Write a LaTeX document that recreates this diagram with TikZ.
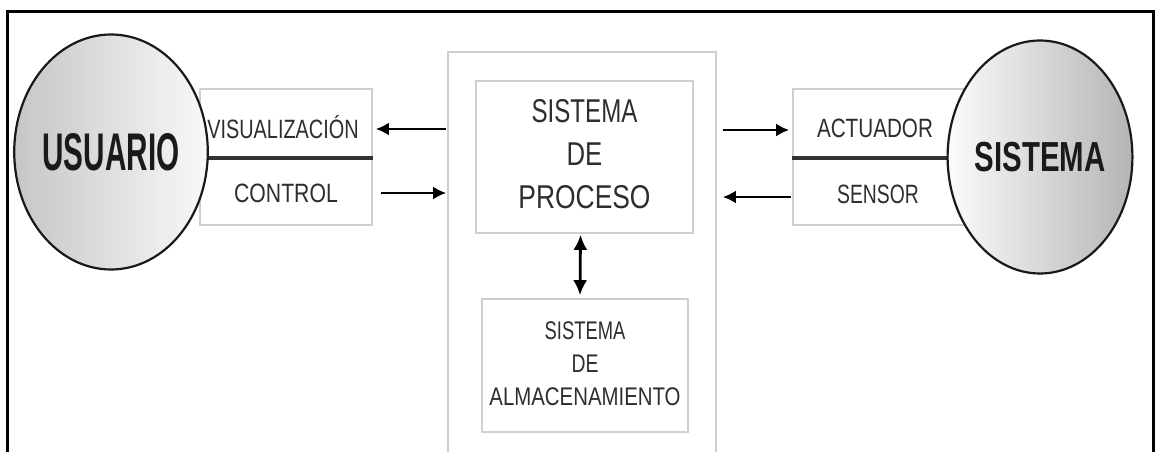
\documentclass[tikz,border=0pt]{standalone}
\usepackage{fontspec}
\setmainfont{Liberation Sans}
\usetikzlibrary{arrows.meta,shapes.geometric}
\definecolor{boxgray}{HTML}{CFCFCF}
\definecolor{txtgray}{HTML}{2E2E2E}
\definecolor{boldtxt}{HTML}{1A1A1A}
\newcommand\hsq[2]{\scalebox{#1}[1]{#2}}
\begin{document}
\begin{tikzpicture}[x=1pt,y=-1pt,
  lbl/.style={font=\fontsize{26.5}{33}\selectfont, text=txtgray, inner sep=0pt},
  gbox/.style={draw=boxgray, line width=1.6pt, fill=white, inner sep=0pt},
  arr/.style={line width=2.8pt, -{Latex[length=13pt,width=13pt]}},
  dbl/.style={line width=2.8pt, {Latex[length=15pt,width=14pt]}-{Latex[length=15pt,width=14pt]}},
  divider/.style={line width=3.4pt, draw=black!80},
  frame/.style={line width=3pt},
  actor/.style={ellipse, draw=black!90, line width=2.2pt, inner sep=0pt,
    text=boldtxt}]
\useasboundingbox (0,0) rectangle (1156,452);
% outer frame (open at the bottom)
\draw[frame] (7,470) -- (7,12) -- (1153,12) -- (1153,470);

% central container
\node[gbox, minimum width=268pt, minimum height=404pt] (outer) at (582,254) {};

% left interface box
\node[gbox, minimum width=172pt, minimum height=136pt] (io) at (286,157) {};
\node[lbl] (vis) at (283,127) {\hsq{0.75}{VISUALIZACIÓN}};
\node[lbl] (ctl) at (286,193) {\hsq{0.8}{CONTROL}};

% right interface box
\node[gbox, minimum width=176pt, minimum height=136pt] (act) at (881,157) {};
\node[lbl] (actl) at (875,128) {\hsq{0.78}{ACTUADOR}};
\node[lbl] (senl) at (878,194) {\hsq{0.73}{SENSOR}};

% dividers
\coordinate (dy) at (0,158);
\draw[divider] (io.west|-dy) -- (io.east|-dy);
\draw[divider] (act.west|-dy) -- (act.east|-dy);

% process box
\node[gbox, minimum width=217pt, minimum height=152pt,
  font=\fontsize{33}{43}\selectfont, text=txtgray] (proc) at (584.5,157)
  {\begin{tabular}{@{}c@{}}\hsq{0.73}{SISTEMA}\\\hsq{0.78}{DE}\\\hsq{0.8}{PROCESO}\end{tabular}};

% storage box
\node[gbox, minimum width=206pt, minimum height=133pt,
  font=\fontsize{25.5}{33}\selectfont, text=txtgray] (stor) at (585,365.5)
  {\begin{tabular}{@{}c@{}}\hsq{0.72}{SISTEMA}\\\hsq{0.76}{DE}\\\hsq{0.8}{ALMACENAMIENTO}\end{tabular}};

% actors
\node[actor, minimum width=172pt, minimum height=235pt,
  font=\bfseries\fontsize{53}{60}\selectfont,
  left color=gray!45, right color=gray!5] (usuario) at (111,152)
  {\hsq{0.56}{USUARIO}};
\node[actor, minimum width=175pt, minimum height=233pt,
  font=\bfseries\fontsize{42}{50}\selectfont,
  left color=gray!3, right color=gray!58] (sistema) at (1040,157)
  {\hsq{0.7}{SISTEMA}};

% arrows
\coordinate (y1) at (0,129);
\coordinate (y2) at (0,193);
\coordinate (y3) at (0,130);
\coordinate (y4) at (0,197);
\draw[arr, shorten <=1pt, shorten >=3pt] (outer.west|-y1) -- (io.east|-y1);
\draw[arr, shorten <=8pt, shorten >=1pt] (io.east|-y2) -- (outer.west|-y2);
\draw[arr, shorten <=6pt, shorten >=3pt] (outer.east|-y3) -- (act.west|-y3);
\draw[arr, shorten <=1pt, shorten >=6pt] (act.west|-y4) -- (outer.east|-y4);
\draw[dbl, shorten <=1pt, shorten >=3pt] ([xshift=-4pt]proc.south) -- ([xshift=-5pt]stor.north);
\end{tikzpicture}
\end{document}
